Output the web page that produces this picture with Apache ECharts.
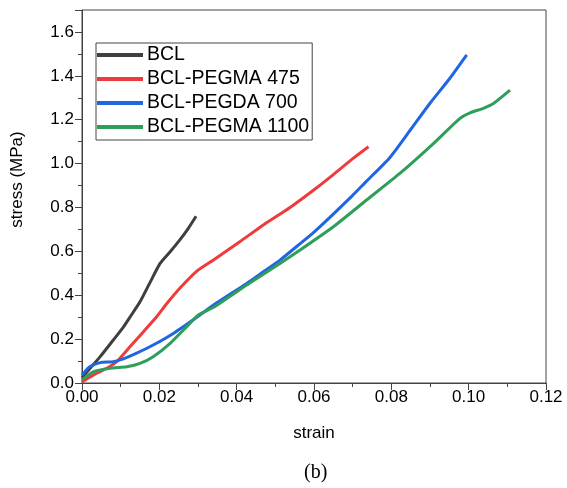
<!DOCTYPE html>
<html>
<head>
<meta charset="utf-8">
<script src="https://cdn.jsdelivr.net/npm/echarts@6/dist/echarts.min.js"></script>
<style>html,body{margin:0;padding:0;background:#fff}#c{width:567px;height:488px}</style>
</head>
<body>
<div id="c"></div>
<script>
const seriesNames = ['BCL', 'BCL-PEGMA 475', 'BCL-PEGDA 700', 'BCL-PEGMA 1100'];
const bcl = [[0,0.025],[0.002,0.065],[0.0047,0.12],[0.0081,0.196],[0.0107,0.255],[0.0124,0.30],[0.015,0.37],[0.0175,0.455],[0.0202,0.545],[0.0228,0.598],[0.0253,0.652],[0.0275,0.705],[0.0295,0.76]];
const pegma475 = [[0,0.005],[0.0029,0.036],[0.0064,0.067],[0.009,0.097],[0.0124,0.165],[0.0159,0.234],[0.0193,0.302],[0.0223,0.37],[0.0253,0.432],[0.0297,0.51],[0.034,0.561],[0.0409,0.645],[0.0469,0.72],[0.0538,0.80],[0.0607,0.89],[0.065,0.95],[0.0702,1.025],[0.0741,1.077]];
const pegda700 = [[0,0.036],[0.002,0.074],[0.0047,0.093],[0.0081,0.097],[0.0107,0.11],[0.014,0.135],[0.0184,0.173],[0.0236,0.226],[0.0297,0.30],[0.034,0.355],[0.0426,0.454],[0.0469,0.507],[0.0512,0.56],[0.0564,0.635],[0.06,0.688],[0.065,0.77],[0.07,0.855],[0.0736,0.92],[0.0796,1.027],[0.0848,1.15],[0.09,1.275],[0.0952,1.39],[0.0995,1.495]];
const pegma1100 = [[0,0.014],[0.0029,0.051],[0.0072,0.067],[0.0116,0.074],[0.015,0.089],[0.0184,0.12],[0.0228,0.181],[0.0271,0.257],[0.0301,0.31],[0.034,0.345],[0.0426,0.447],[0.0512,0.545],[0.0564,0.606],[0.065,0.712],[0.0736,0.834],[0.0822,0.955],[0.0908,1.09],[0.0977,1.205],[0.1005,1.232],[0.1038,1.252],[0.1064,1.274],[0.1107,1.335]];
const colors = ['#3f3f3f', '#ee3c3c', '#1e66e2', '#2e9e5a'];
const xTitle = 'strain';
const yTitle = 'stress (MPa)';
const caption = '(b)';

const chart = echarts.init(document.getElementById('c'), null, {renderer: 'canvas'});
const font = '"Liberation Sans", Arial, sans-serif';
const allData = [bcl, pegma475, pegda700, pegma1100];
chart.setOption({
  animation: false,
  backgroundColor: '#fff',
  title: {
    text: caption, left: 299, top: 458,
    textStyle: {fontFamily: '"Liberation Serif", "Times New Roman", serif', fontSize: 20, fontWeight: 'normal', color: '#000'}
  },
  grid: {left: 82, right: 21, top: 10, bottom: 105, show: true, borderColor: '#444', borderWidth: 1, backgroundColor: 'transparent'},
  legend: {
    orient: 'vertical', left: 96, top: 43,
    data: seriesNames,
    icon: 'rect', itemWidth: 46, itemHeight: 4, itemGap: 4,
    borderColor: '#444', borderWidth: 1, padding: [2, 3, 3, 1],
    textStyle: {fontFamily: font, fontSize: 19.5, color: '#000', lineHeight: 20, padding: [0,0,0,-1]}
  },
  xAxis: {
    type: 'value', min: 0, max: 0.12, interval: 0.02,
    name: xTitle, nameLocation: 'middle', nameGap: 42,
    nameTextStyle: {fontFamily: font, fontSize: 17, color: '#000'},
    axisLine: {show: true, lineStyle: {color: '#444', width: 1}},
    axisTick: {show: true, inside: false, length: 7, lineStyle: {color: '#444'}},
    minorTick: {show: true, splitNumber: 2, length: 4, lineStyle: {color: '#444'}},
    splitLine: {show: false},
    axisLabel: {fontFamily: font, fontSize: 17, color: '#000', margin: 6, formatter: v => v.toFixed(2)}
  },
  yAxis: {
    type: 'value', min: 0, max: 1.7, interval: 0.2,
    name: yTitle, nameLocation: 'middle', nameGap: 56,
    nameTextStyle: {fontFamily: font, fontSize: 17, color: '#000', padding: [0, 0, 0, 34]},
    axisLine: {show: true, lineStyle: {color: '#444', width: 1}},
    axisTick: {show: true, inside: false, length: 7, lineStyle: {color: '#444'}},
    minorTick: {show: true, splitNumber: 2, length: 4, lineStyle: {color: '#444'}},
    splitLine: {show: false},
    axisLabel: {fontFamily: font, fontSize: 17, color: '#000', margin: 8, showMaxLabel: false,
      formatter: v => (Math.abs(v - 1.7) < 1e-6 ? '' : v.toFixed(1))}
  },
  series: seriesNames.map((n, i) => ({
    name: n, type: 'line', data: allData[i], showSymbol: false, symbol: 'none',
    smooth: 0.2, color: colors[i], lineStyle: {width: 3, color: colors[i]}, itemStyle: {color: colors[i]}
  }))
});
</script>
</body>
</html>
